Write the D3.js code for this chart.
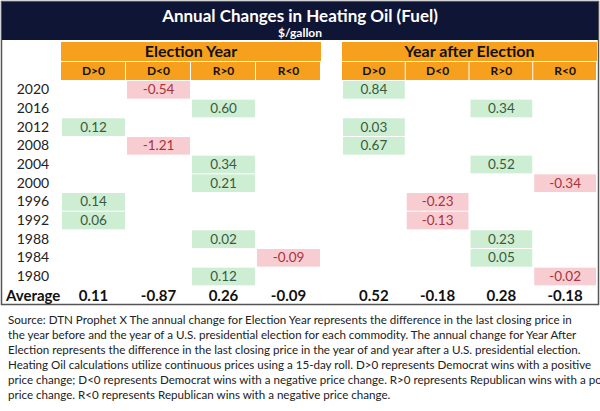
<!DOCTYPE html>
<html><head><meta charset="utf-8">
<script src="https://cdn.jsdelivr.net/npm/d3@7"></script>
<style>
body{margin:0;background:#fff;}
text{font-family:Lato,"Liberation Sans Narrow",sans-serif;}
.note{font-family:Lato,sans-serif;font-size:11.6px;fill:#222;}
</style></head><body>
<div id="chart"></div>
<script>
// Data
let years = ["2020","2016","2012","2008","2004","2000","1996","1992","1988","1984","1980"];
let columns = ["D>0","D<0","R>0","R<0"];
let groups = ["Election Year","Year after Election"];
// [year, column index, value]
let electionVals = [["2020",1,-0.54],["2016",2,0.60],["2012",0,0.12],["2008",1,-1.21],["2004",2,0.34],
	["2000",2,0.21],["1996",0,0.14],["1992",0,0.06],["1988",2,0.02],["1984",3,-0.09],["1980",2,0.12]];
let afterVals = [["2020",0,0.84],["2016",2,0.34],["2012",0,0.03],["2008",0,0.67],["2004",2,0.52],
	["2000",3,-0.34],["1996",1,-0.23],["1992",1,-0.13],["1988",2,0.23],["1984",2,0.05],["1980",3,-0.02]];
let electionAvg = [0.11,-0.87,0.26,-0.09];
let afterAvg = [0.52,-0.18,0.28,-0.18];
let notes = [
 "Source: DTN Prophet X The annual change for Election Year represents the difference in the last closing price in",
 "the year before and the year of a U.S. presidential election for each commodity. The annual change for Year After",
 "Election represents the difference in the last closing price in the year of and year after a U.S. presidential election.",
 "Heating Oil calculations utilize continuous prices using a 15-day roll. D>0 represents Democrat wins with a positive",
 "price change; D<0 represents Democrat wins with a negative price change. R>0 represents Republican wins with a positive",
 "price change. R<0 represents Republican wins with a negative price change."
];

let fmt = v => d3.format(".2f")(v).replace("\u2212","-");

let svg = d3.select("#chart").append("svg").attr("width",600).attr("height",411);

svg.append("rect").attr("x",1.5).attr("y",1.5).attr("width",597).attr("height",303)
	.attr("fill","none").attr("stroke","#555").attr("stroke-width",1.5);
svg.append("rect").attr("x",2).attr("y",2).attr("width",596).attr("height",38).attr("fill","#0f1535");
svg.append("text").attr("x",300).attr("y",22).attr("text-anchor","middle").attr("fill","#fff")
	.attr("font-size",17).attr("font-weight","bold").text("Annual Changes in Heating Oil (Fuel)");
svg.append("text").attr("x",300).attr("y",37).attr("text-anchor","middle").attr("fill","#fff")
	.attr("font-size",12).attr("font-weight","bold").text("$/gallon");

let groupX = [d3.scaleBand().domain(d3.range(4)).range([61,321]),
	d3.scaleBand().domain(d3.range(4)).range([342,597])];
let y = d3.scaleBand().domain(years.concat(["Average"])).range([80,304]);

groups.forEach((g,gi) => {
	let x = groupX[gi];
	svg.append("rect").attr("x",x.range()[0]).attr("y",42).attr("width",x.range()[1]-x.range()[0])
		.attr("height",19).attr("fill","#f6a01d");
	svg.append("text").attr("x",(x.range()[0]+x.range()[1])/2).attr("y",57).attr("text-anchor","middle")
		.attr("font-size",16).attr("font-weight","bold").attr("fill","#111").text(g);
	let sub = svg.append("g");
	sub.selectAll("rect").data(columns).enter().append("rect")
		.attr("x",(d,i) => x(i)).attr("y",62).attr("width",x.bandwidth()-1).attr("height",18).attr("fill","#f6a01d");
	sub.selectAll("text").data(columns).enter().append("text")
		.attr("x",(d,i) => x(i)+x.bandwidth()/2).attr("y",75).attr("text-anchor","middle")
		.attr("font-size",12).attr("font-weight","bold").attr("fill","#111").text(d => d);

	let vals = gi === 0 ? electionVals : afterVals;
	let cells = svg.append("g").selectAll("g").data(vals).enter().append("g");
	cells.append("rect").attr("x",d => x(d[1])+1).attr("y",d => y(d[0])+1)
		.attr("width",x.bandwidth()-2).attr("height",y.bandwidth()-1)
		.attr("fill",d => d[2] >= 0 ? "#cdeed3" : "#f8cdd2");
	cells.append("text").attr("x",d => x(d[1])+x.bandwidth()/2).attr("y",d => y(d[0])+y.bandwidth()/2+5)
		.attr("text-anchor","middle").attr("font-size",13.5)
		.attr("fill",d => d[2] >= 0 ? "#3a5a40" : "#a8333d").text(d => fmt(d[2]));

	let avg = gi === 0 ? electionAvg : afterAvg;
	svg.append("g").selectAll("text").data(avg).enter().append("text")
		.attr("x",(d,i) => x(i)+x.bandwidth()/2).attr("y",y("Average")+y.bandwidth()/2+6)
		.attr("text-anchor","middle").attr("font-size",15).attr("font-weight","bold").attr("fill","#111")
		.text(d => fmt(d));
});

svg.append("g").selectAll("text").data(years).enter().append("text")
	.attr("x",33).attr("y",d => y(d)+y.bandwidth()/2+5).attr("text-anchor","middle")
	.attr("font-size",14).attr("fill","#222").text(d => d);
svg.append("text").attr("x",6).attr("y",y("Average")+y.bandwidth()/2+6).attr("font-size",15)
	.attr("font-weight","bold").attr("fill","#111").text("Average");

svg.append("g").selectAll("text").data(notes).enter().append("text").attr("class","note")
	.attr("x",8).attr("y",(d,i) => 324 + i*15).text(d => d);
</script>
</body></html>
